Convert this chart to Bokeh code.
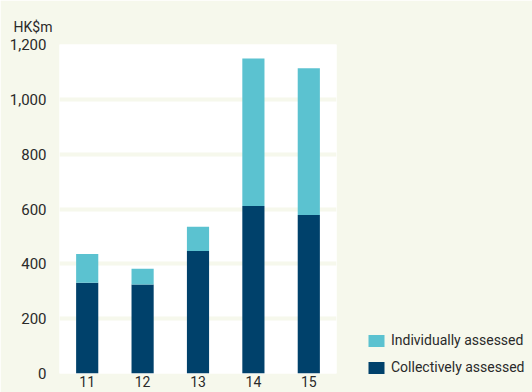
from bokeh.plotting import figure
from bokeh.models import ColumnDataSource, FactorRange, Range1d, FixedTicker, Legend, NumeralTickFormatter
from bokeh.embed import file_html
from bokeh.resources import INLINE

years = ["11", "12", "13", "14", "15"]
collectively = [331, 325, 447, 611, 578]
individually = [105, 57, 88, 538, 535]
y_ticks = [0, 200, 400, 600, 800, 1000, 1200]

BG = "#f6f8ec"
TXT = "#2a2a2a"
FONT = "Roboto"

src = ColumnDataSource(dict(year=years, collectively=collectively, individually=individually))

p = figure(frame_width=277, frame_height=329, x_range=FactorRange(*years, range_padding=0),
           y_range=Range1d(0, 1200), output_backend="svg", toolbar_location=None,
           min_border_left=59, min_border_right=196, min_border_top=44, min_border_bottom=19)
p.background_fill_color = "white"
p.border_fill_color = BG
p.outline_line_color = None

r = p.vbar_stack(["collectively", "individually"], x="year", width=0.4, source=src,
                 color=["#00416b", "#5bc2d0"], line_color=None)

p.xgrid.grid_line_color = None
p.ygrid.ticker = FixedTicker(ticks=[200, 400, 600, 800, 1000])
p.ygrid.grid_line_color = BG
p.ygrid.grid_line_width = 4

p.yaxis.ticker = FixedTicker(ticks=y_ticks)
p.yaxis.formatter = NumeralTickFormatter(format="0,0")
for ax in (p.xaxis[0], p.yaxis[0]):
    ax.axis_line_color = None
    ax.major_tick_line_color = None
    ax.minor_tick_line_color = None
    ax.major_label_text_font = FONT
    ax.major_label_text_color = TXT
p.yaxis.major_label_text_font_size = "15px"
p.xaxis.major_label_text_font_size = "14px"
p.yaxis.major_label_standoff = 7
p.xaxis.major_tick_out = 0
p.xaxis.major_tick_in = 0
p.xaxis.minor_tick_out = 0
p.xaxis.major_label_standoff = 2

p.title.text = "HK$m"
p.title.text_font = FONT
p.title.text_font_size = "14px"
p.title.text_font_style = "normal"
p.title.text_color = TXT
p.title.offset = -46
p.title.standoff = 19

legend = Legend(items=[("Individually assessed", [r[1]]), ("Collectively assessed", [r[0]])],
                location=(30, -2), orientation="vertical",
                padding=0, margin=0, spacing=11,
                glyph_width=20, glyph_height=15, label_height=15, label_standoff=5,
                label_text_font=FONT, label_text_font_size="14px", label_text_color=TXT,
                border_line_color=None, background_fill_alpha=0)
p.add_layout(legend, "right")

open("out.html", "w").write(file_html(p, INLINE))
